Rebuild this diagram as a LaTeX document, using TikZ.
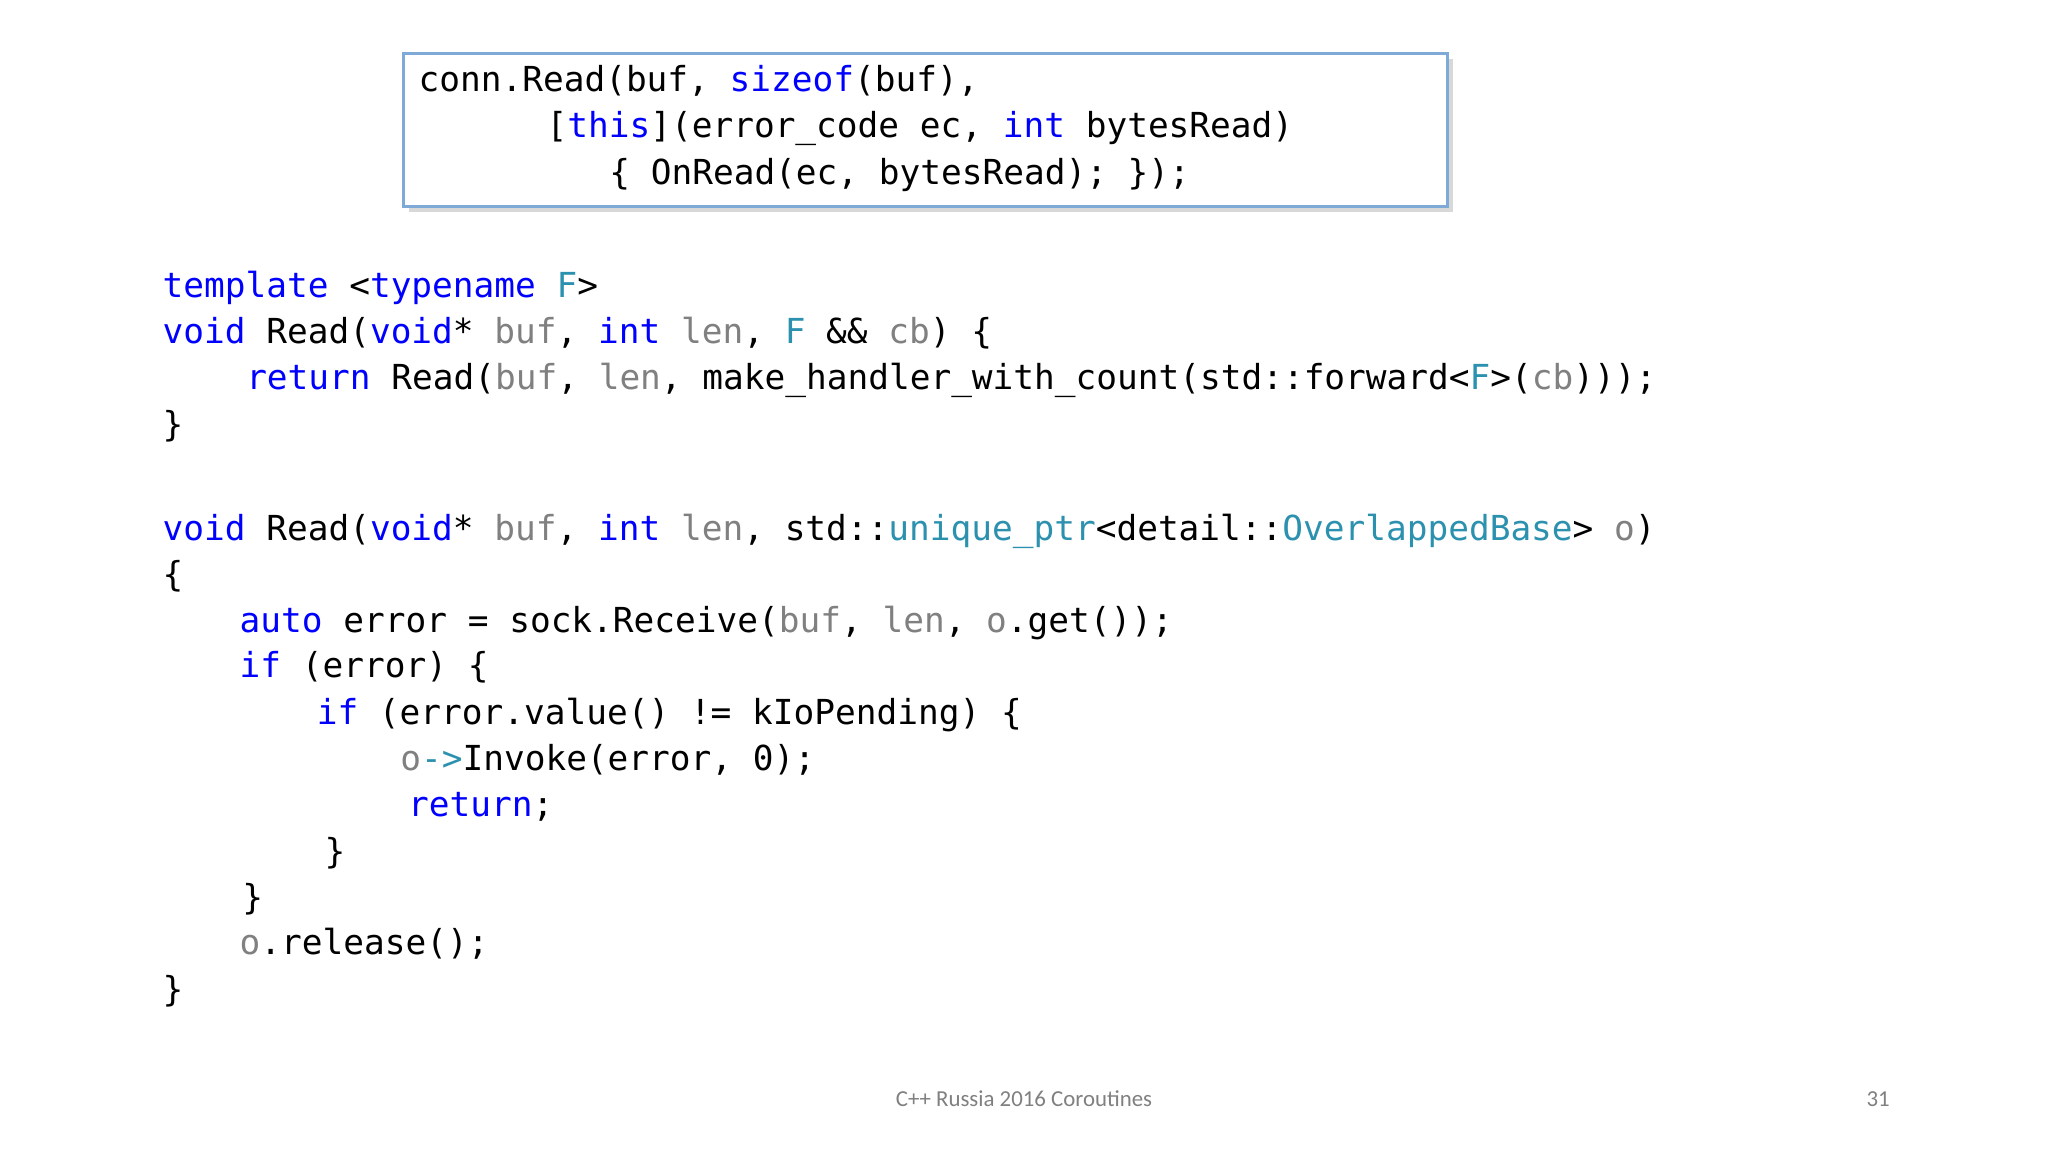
\documentclass[tikz,border=0pt]{standalone}
\usepackage{fontspec}
\setmonofont{DejaVu Sans Mono}
\newfontfamily\footfont{Carlito}
\usetikzlibrary{shadows}
\definecolor{kwc}{HTML}{0000FF}
\definecolor{grc}{HTML}{808080}
\definecolor{tyc}{HTML}{2B91AF}
\definecolor{boxc}{HTML}{7FA9D6}
\newcommand{\kw}[1]{\textcolor{kwc}{#1}}
\newcommand{\gr}[1]{\textcolor{grc}{#1}}
\newcommand{\ty}[1]{\textcolor{tyc}{#1}}
\begin{document}
\begin{tikzpicture}[x=0.01306cm,y=-0.01306cm,
  code/.style={anchor=base west,inner sep=0pt,font=\ttfamily\fontsize{9.8}{12}\selectfont},
  foot/.style={anchor=base,inner sep=0pt,text=grc,font=\footfont\fontsize{6.5}{8}\selectfont}]
\useasboundingbox[fill=white] (0,0) rectangle (1568,882);
\node[draw=boxc,line width=0.9pt,fill=white,drop shadow={opacity=0.3,shadow xshift=1.5pt,shadow yshift=-1.5pt},minimum width=799*0.01306cm,minimum height=117*0.01306cm,anchor=north west,inner sep=0pt] (box) at (308,40) {};
\node[code] (b1) at (320,70) {conn.Read(buf, \kw{sizeof}(buf),};
\node[code] (b2) at (418,105) {[\kw{this}](error\_code ec, \kw{int} bytesRead)};
\node[code] (b3) at (466,141) {\{ OnRead(ec, bytesRead); \});};
\node[code] (l1) at (124,228) {\kw{template} <\kw{typename} \ty{F}>};
\node[code] (l2) at (124,263) {\kw{void} Read(\kw{void}* \gr{buf}, \kw{int} \gr{len}, \ty{F} \&\& \gr{cb}) \{};
\node[code] (l3) at (188,298) {\kw{return} Read(\gr{buf}, \gr{len}, make\_handler\_with\_count(std::forward<\ty{F}>(\gr{cb})));};
\node[code] (l4) at (124,334) {\}};
\node[code] (l5) at (124,414) {\kw{void} Read(\kw{void}* \gr{buf}, \kw{int} \gr{len}, std::\ty{unique\_ptr}<detail::\ty{OverlappedBase}> \gr{o})};
\node[code] (l6) at (124,449) {\{};
\node[code] (l7) at (183,484) {\kw{auto} error = sock.Receive(\gr{buf}, \gr{len}, \gr{o}.get());};
\node[code] (l8) at (183,519) {\kw{if} (error) \{};
\node[code] (l9) at (242,555) {\kw{if} (error.value() != kIoPending) \{};
\node[code] (l10) at (306,590) {\gr{o}\ty{->}Invoke(error, 0);};
\node[code] (l11) at (312,625) {\kw{return};};
\node[code] (l12) at (248,661) {\}};
\node[code] (l13) at (185,696) {\}};
\node[code] (l14) at (183,731) {\gr{o}.release();};
\node[code] (l15) at (124,767) {\}};
\node[foot] (f1) at (784,847) {C++ Russia 2016 Coroutines};
\node[foot] (f2) at (1438,847) {31};
\end{tikzpicture}
\end{document}
